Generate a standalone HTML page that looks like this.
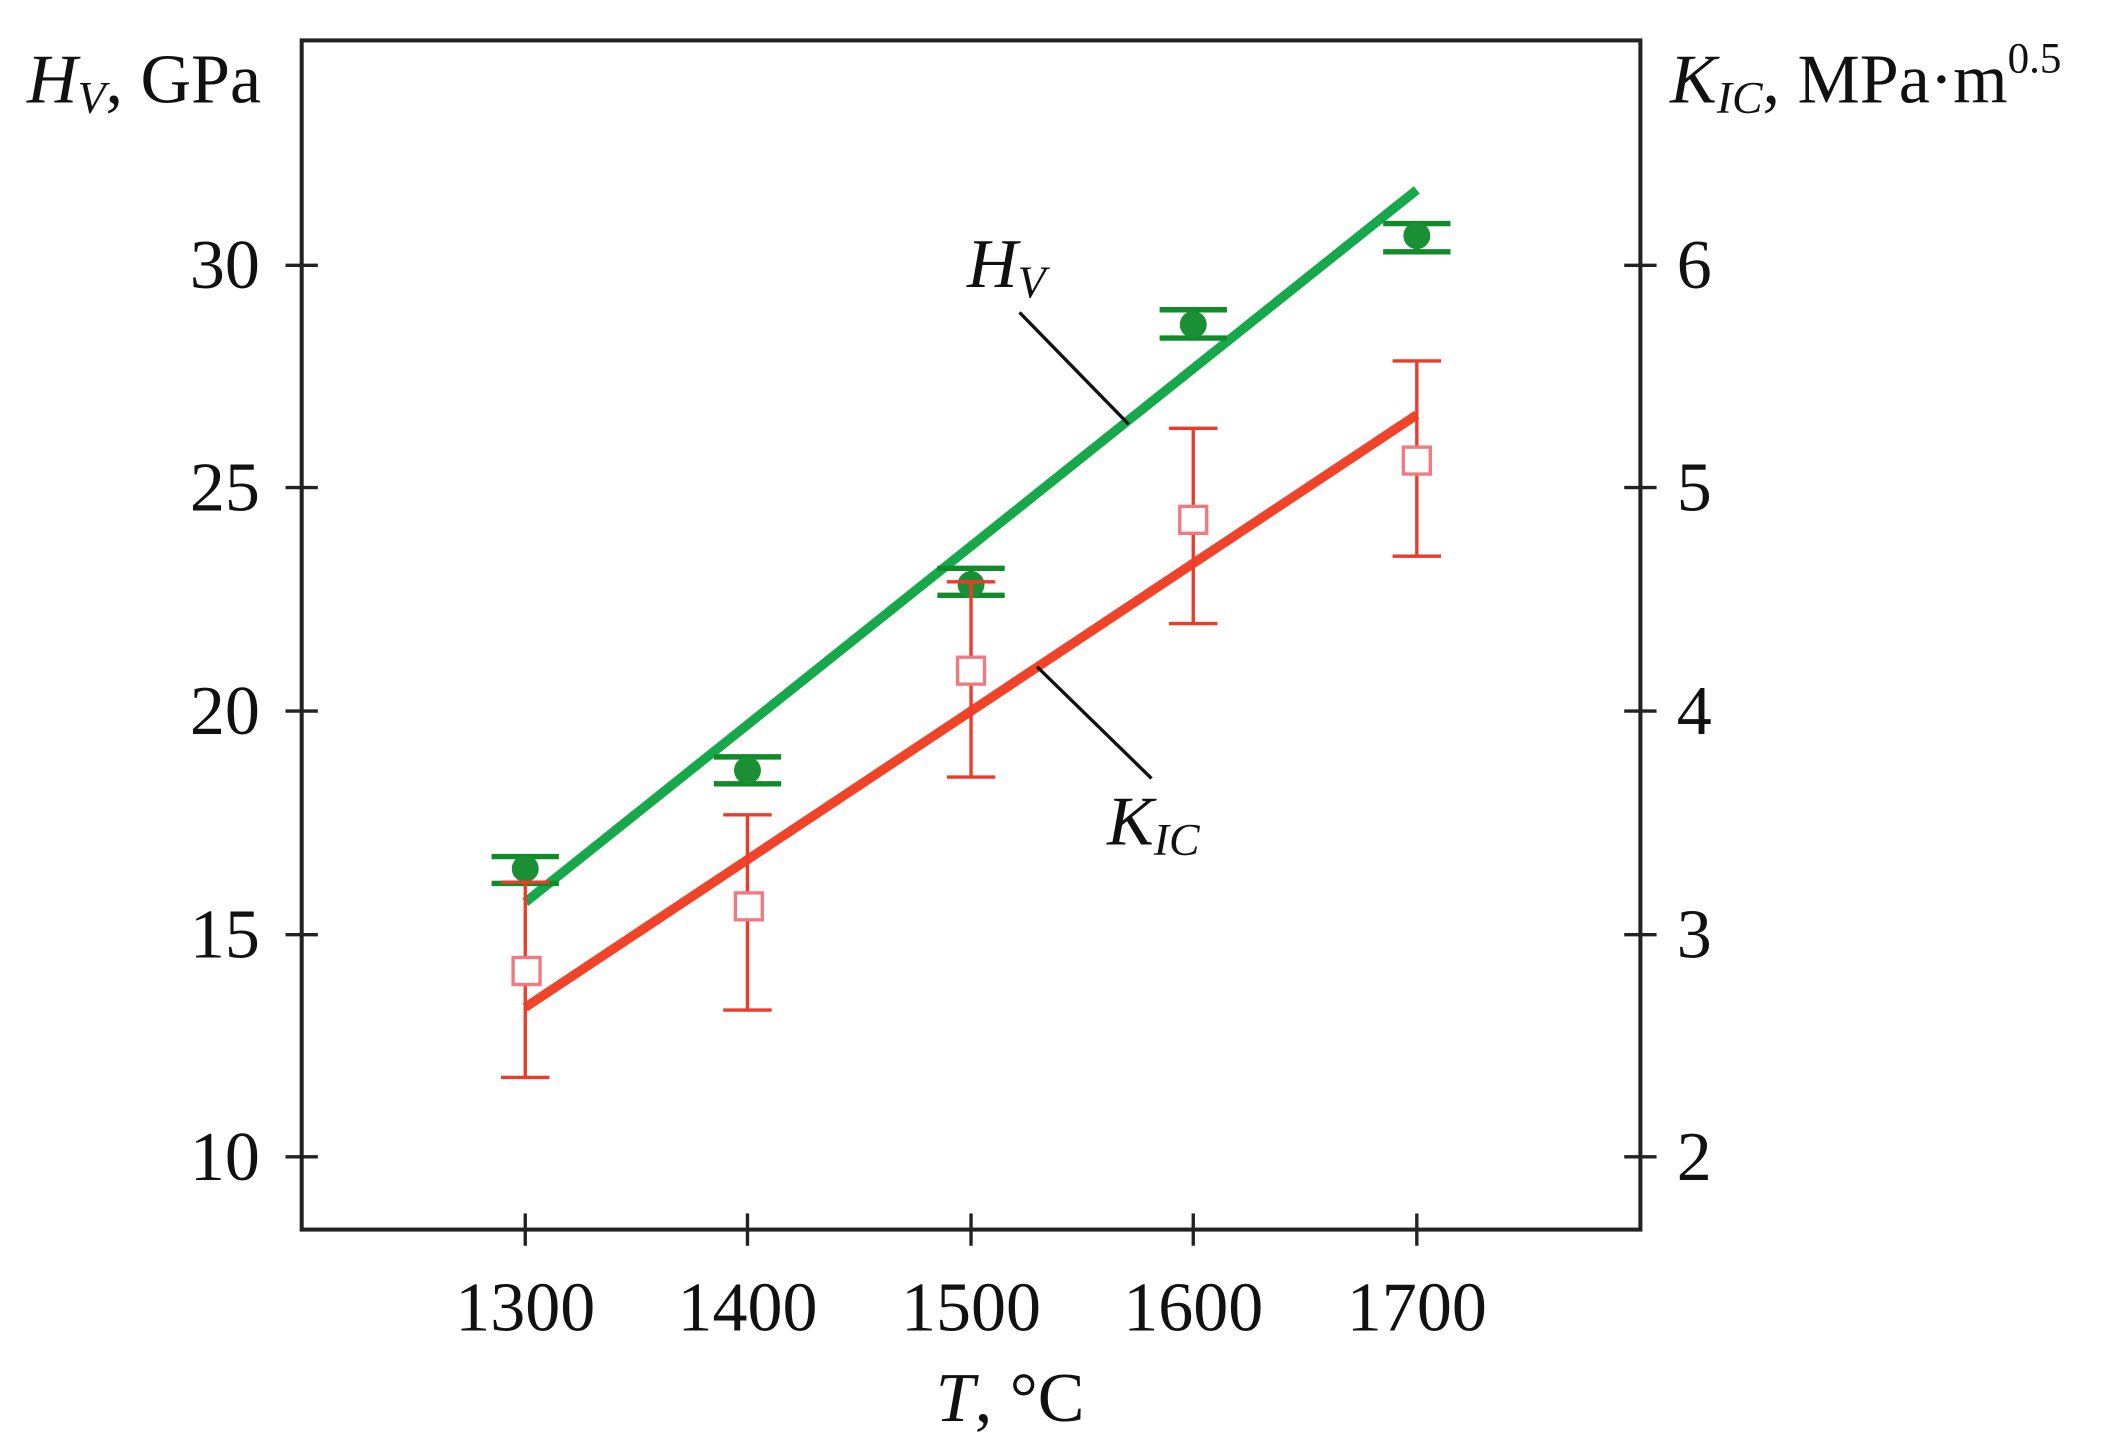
<!DOCTYPE html>
<html><head><meta charset="utf-8"><style>
html,body{margin:0;padding:0;background:#fff;}
svg{display:block;}
text{font-family:"Liberation Serif",serif;fill:#111;}
</style></head><body>
<svg width="2101" height="1451" viewBox="0 0 1560 1077.4" preserveAspectRatio="none" xmlns="http://www.w3.org/2000/svg">
<rect x="224" y="30" width="994" height="883" fill="none" stroke="#222" stroke-width="3"/>
<g stroke="#222" stroke-width="2.5">
<line x1="212" y1="197" x2="236" y2="197"/><line x1="212" y1="362" x2="236" y2="362"/><line x1="212" y1="528" x2="236" y2="528"/><line x1="212" y1="694" x2="236" y2="694"/><line x1="212" y1="859" x2="236" y2="859"/>
<line x1="1206" y1="197" x2="1230" y2="197"/><line x1="1206" y1="362" x2="1230" y2="362"/><line x1="1206" y1="528" x2="1230" y2="528"/><line x1="1206" y1="694" x2="1230" y2="694"/><line x1="1206" y1="859" x2="1230" y2="859"/>
<line x1="390" y1="901" x2="390" y2="925"/><line x1="555" y1="901" x2="555" y2="925"/><line x1="721" y1="901" x2="721" y2="925"/><line x1="886" y1="901" x2="886" y2="925"/><line x1="1052" y1="901" x2="1052" y2="925"/>
</g>
<g font-size="52" text-anchor="end">
<text x="193" y="214">30</text><text x="193" y="379">25</text><text x="193" y="545">20</text><text x="193" y="711">15</text><text x="193" y="876">10</text>
</g>
<g font-size="52">
<text x="1245" y="214">6</text><text x="1245" y="379">5</text><text x="1245" y="545">4</text><text x="1245" y="711">3</text><text x="1245" y="876">2</text>
</g>
<g font-size="52" text-anchor="middle">
<text x="390" y="988">1300</text><text x="555" y="988">1400</text><text x="721" y="988">1500</text><text x="886" y="988">1600</text><text x="1052" y="988">1700</text>
<text x="750" y="1055"><tspan font-style="italic">T</tspan>, °C</text>
</g>
<text x="20" y="76" font-size="52"><tspan font-style="italic">H</tspan><tspan font-style="italic" font-size="34" dy="8">V</tspan><tspan dy="-8">, GPa</tspan></text>
<text x="1240" y="76" font-size="52"><tspan font-style="italic">K</tspan><tspan font-style="italic" font-size="34" dy="8">IC</tspan><tspan dy="-8">, MPa·m</tspan><tspan font-size="32" dy="-22">0.5</tspan></text>
<!-- green -->
<line x1="390" y1="670" x2="1052" y2="141" stroke="#16a84a" stroke-width="7"/>
<g stroke="#118a2a" stroke-width="4" fill="#1a8f35">
<line x1="390" y1="636" x2="390" y2="656"/><line x1="365" y1="636" x2="415" y2="636"/><line x1="365" y1="656" x2="415" y2="656"/><circle cx="390" cy="645" r="10" stroke="none"/>
<line x1="555" y1="562" x2="555" y2="582"/><line x1="530" y1="562" x2="580" y2="562"/><line x1="530" y1="582" x2="580" y2="582"/><circle cx="555" cy="572" r="10" stroke="none"/>
<line x1="721" y1="422" x2="721" y2="442"/><line x1="696" y1="422" x2="746" y2="422"/><line x1="696" y1="442" x2="746" y2="442"/><circle cx="721" cy="434" r="10" stroke="none"/>
<line x1="886" y1="230" x2="886" y2="251"/><line x1="861" y1="230" x2="911" y2="230"/><line x1="861" y1="251" x2="911" y2="251"/><circle cx="886" cy="241" r="10" stroke="none"/>
<line x1="1052" y1="166" x2="1052" y2="187"/><line x1="1027" y1="166" x2="1077" y2="166"/><line x1="1027" y1="187" x2="1077" y2="187"/><circle cx="1052" cy="175" r="10" stroke="none"/>
</g>
<!-- red -->
<line x1="390" y1="748" x2="1052" y2="308" stroke="#f0442a" stroke-width="7"/>
<g stroke="#ee3a2a" stroke-width="2.5" fill="none">
<line x1="390" y1="655" x2="390" y2="800"/><line x1="372" y1="655" x2="408" y2="655"/><line x1="372" y1="800" x2="408" y2="800"/>
<line x1="555" y1="605" x2="555" y2="750"/><line x1="537" y1="605" x2="573" y2="605"/><line x1="537" y1="750" x2="573" y2="750"/>
<line x1="721" y1="432" x2="721" y2="577"/><line x1="703" y1="432" x2="739" y2="432"/><line x1="703" y1="577" x2="739" y2="577"/>
<line x1="886" y1="318" x2="886" y2="463"/><line x1="868" y1="318" x2="904" y2="318"/><line x1="868" y1="463" x2="904" y2="463"/>
<line x1="1052" y1="268" x2="1052" y2="413"/><line x1="1034" y1="268" x2="1070" y2="268"/><line x1="1034" y1="413" x2="1070" y2="413"/>
</g>
<g stroke="#f07a80" stroke-width="2.5" fill="#fff">
<rect x="381" y="711" width="20" height="20"/><rect x="546" y="663" width="20" height="20"/><rect x="711" y="488" width="20" height="20"/><rect x="876" y="376" width="20" height="20"/><rect x="1042" y="332" width="20" height="20"/>
</g>
<!-- annotations -->
<line x1="757" y1="232" x2="838" y2="315" stroke="#111" stroke-width="2.5"/>
<line x1="770" y1="495" x2="855" y2="578" stroke="#111" stroke-width="2.5"/>
<text x="718" y="213" font-size="52" font-style="italic">H<tspan font-size="34" dy="8">V</tspan></text>
<text x="822" y="627" font-size="52" font-style="italic">K<tspan font-size="34" dy="8">IC</tspan></text>
</svg>
</body></html>
